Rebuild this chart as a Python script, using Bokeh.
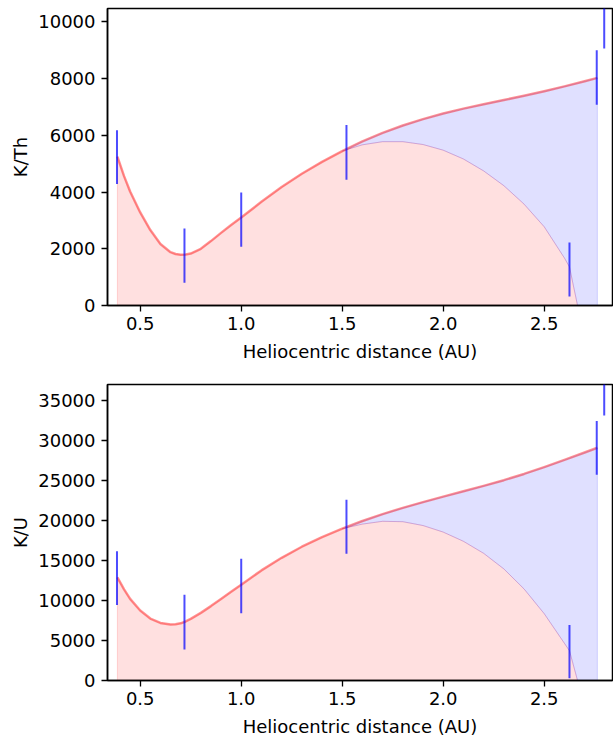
from bokeh.plotting import figure
from bokeh.layouts import column
from bokeh.models import FixedTicker, Range1d
from bokeh.embed import file_html
from bokeh.resources import INLINE

# ---- data ----
dist_obs = [0.385, 0.719, 1.0, 1.521, 2.625, 2.76, 2.797]
kth_obs = [5230, 1760, 3030, 5400, 1270, 8040, 10020]
kth_err = [950, 955, 955, 965, 955, 960, 960]
ku_obs = [12800, 7300, 11820, 19220, 3620, 29080, 36500]
ku_err = [3370, 3410, 3400, 3370, 3330, 3350, 3370]

fit_x = [0.387, 0.42, 0.45, 0.5, 0.55, 0.6, 0.65, 0.675, 0.7, 0.725, 0.75, 0.8, 0.85, 0.9, 0.95,
         1.0, 1.1, 1.2, 1.3, 1.4, 1.5, 1.6, 1.7, 1.8, 1.9, 2.0, 2.1, 2.2, 2.3, 2.4,
         2.5, 2.6, 2.7, 2.763]
kth_fit_upper = [5250, 4560, 4020, 3280, 2660, 2170, 1880, 1815, 1790, 1795, 1830, 2000, 2270, 2560, 2840,
                 3100, 3655, 4175, 4645, 5065, 5445, 5785, 6085, 6345, 6570, 6770, 6940, 7095,
                 7245, 7395, 7555, 7725, 7905, 8025]
ku_fit_upper = [12900, 11400, 10200, 8750, 7740, 7200, 7010, 7040, 7150, 7380, 7700, 8450, 9300, 10200, 11100,
                11980, 13760, 15340, 16720, 17920, 18980, 19940, 20800, 21580, 22300, 22980,
                23650, 24330, 25040, 25820, 26670, 27570, 28500, 29090]

low_x = [1.5, 1.6, 1.7, 1.8, 1.9, 2.0, 2.1, 2.2, 2.3, 2.4, 2.5, 2.6, 2.625, 2.665]
kth_fit_lower = [5445, 5665, 5775, 5775, 5675, 5475, 5165, 4745, 4225, 3575, 2775, 1675, 1360, 0]
ku_fit_lower = [18980, 19550, 19900, 19850, 19370, 18550, 17400, 15900, 13950, 11450, 8350, 4650, 3720, 0]

x_ticks = [0.5, 1.0, 1.5, 2.0, 2.5]
kth_ticks = [0, 2000, 4000, 6000, 8000, 10000]
ku_ticks = [0, 5000, 10000, 15000, 20000, 25000, 30000, 35000]

FONT = "DejaVu Sans"
FS = "18px"


def make_panel(ylabel, upper, lower, obs, err, yticks, ymax, height, btop, bbot):
    p = figure(width=613, height=height, output_backend="svg", toolbar_location=None,
               x_range=Range1d(0.338, 2.838), y_range=Range1d(0, ymax),
               min_border_left=107, min_border_right=1,
               min_border_top=btop, min_border_bottom=bbot)
    p.grid.visible = False
    p.outline_line_color = "black"
    p.outline_line_width = 1.5
    p.outline_line_alpha = 1.0
    for ax in (p.xaxis[0], p.yaxis[0]):
        ax.axis_line_width = 1.5
        ax.axis_line_color = "black"
        ax.major_tick_line_width = 1.3
        ax.major_tick_out = 6
        ax.major_tick_in = 0
        ax.minor_tick_out = 0
        ax.minor_tick_in = 0
        ax.major_label_text_font = FONT
        ax.major_label_text_font_size = FS
        ax.major_label_text_color = "black"
        ax.axis_label_text_font = FONT
        ax.axis_label_text_font_size = FS
        ax.axis_label_text_font_style = "normal"
        ax.axis_label_text_color = "black"
    p.xaxis.ticker = FixedTicker(ticks=x_ticks)
    p.xaxis.major_label_overrides = {t: f"{t:.1f}" for t in x_ticks}
    p.yaxis.ticker = FixedTicker(ticks=yticks)
    p.yaxis.major_label_overrides = {t: str(t) for t in yticks}
    p.xaxis.axis_label = "Heliocentric distance (AU)"
    p.yaxis.axis_label = ylabel
    p.xaxis.major_label_standoff = 5
    p.yaxis.major_label_standoff = 6
    p.xaxis.axis_label_standoff = 8
    p.yaxis.axis_label_standoff = 4

    # red region: under the (lower) fit
    red_x = [fit_x[0]] + [x for x in fit_x if x < low_x[0]] + low_x
    red_y = [0] + [y for x, y in zip(fit_x, upper) if x < low_x[0]] + lower
    p.patch(red_x, red_y, fill_color="red", fill_alpha=0.12,
            line_color="red", line_alpha=0.15, line_width=1)

    # blue region: between lower and upper fits
    up_x = [x for x in fit_x if x >= low_x[0]]
    up_y = [y for x, y in zip(fit_x, upper) if x >= low_x[0]]
    blue_x = up_x + [up_x[-1], low_x[-1]] + low_x[::-1]
    blue_y = up_y + [0, 0] + lower[::-1]
    p.patch(blue_x, blue_y, fill_color="blue", fill_alpha=0.12,
            line_color="blue", line_alpha=0.15, line_width=1)

    # upper fit line
    p.line(fit_x, upper, line_color="red", line_alpha=0.42, line_width=2.5,
           line_join="round")

    # error bars
    p.segment(x0=dist_obs, y0=[v - e for v, e in zip(obs, err)],
              x1=dist_obs, y1=[v + e for v, e in zip(obs, err)],
              line_color="blue", line_alpha=0.7, line_width=2)
    return p


p1 = make_panel("K/Th", kth_fit_upper, kth_fit_lower, kth_obs, kth_err, kth_ticks,
                10470, 370, 8, 65)
p2 = make_panel("K/U", ku_fit_upper, ku_fit_lower, ku_obs, ku_err, ku_ticks,
                37000, 369, 14, 57)

layout = column(p1, p2, spacing=0)
open("out.html", "w").write(file_html(layout, INLINE))
